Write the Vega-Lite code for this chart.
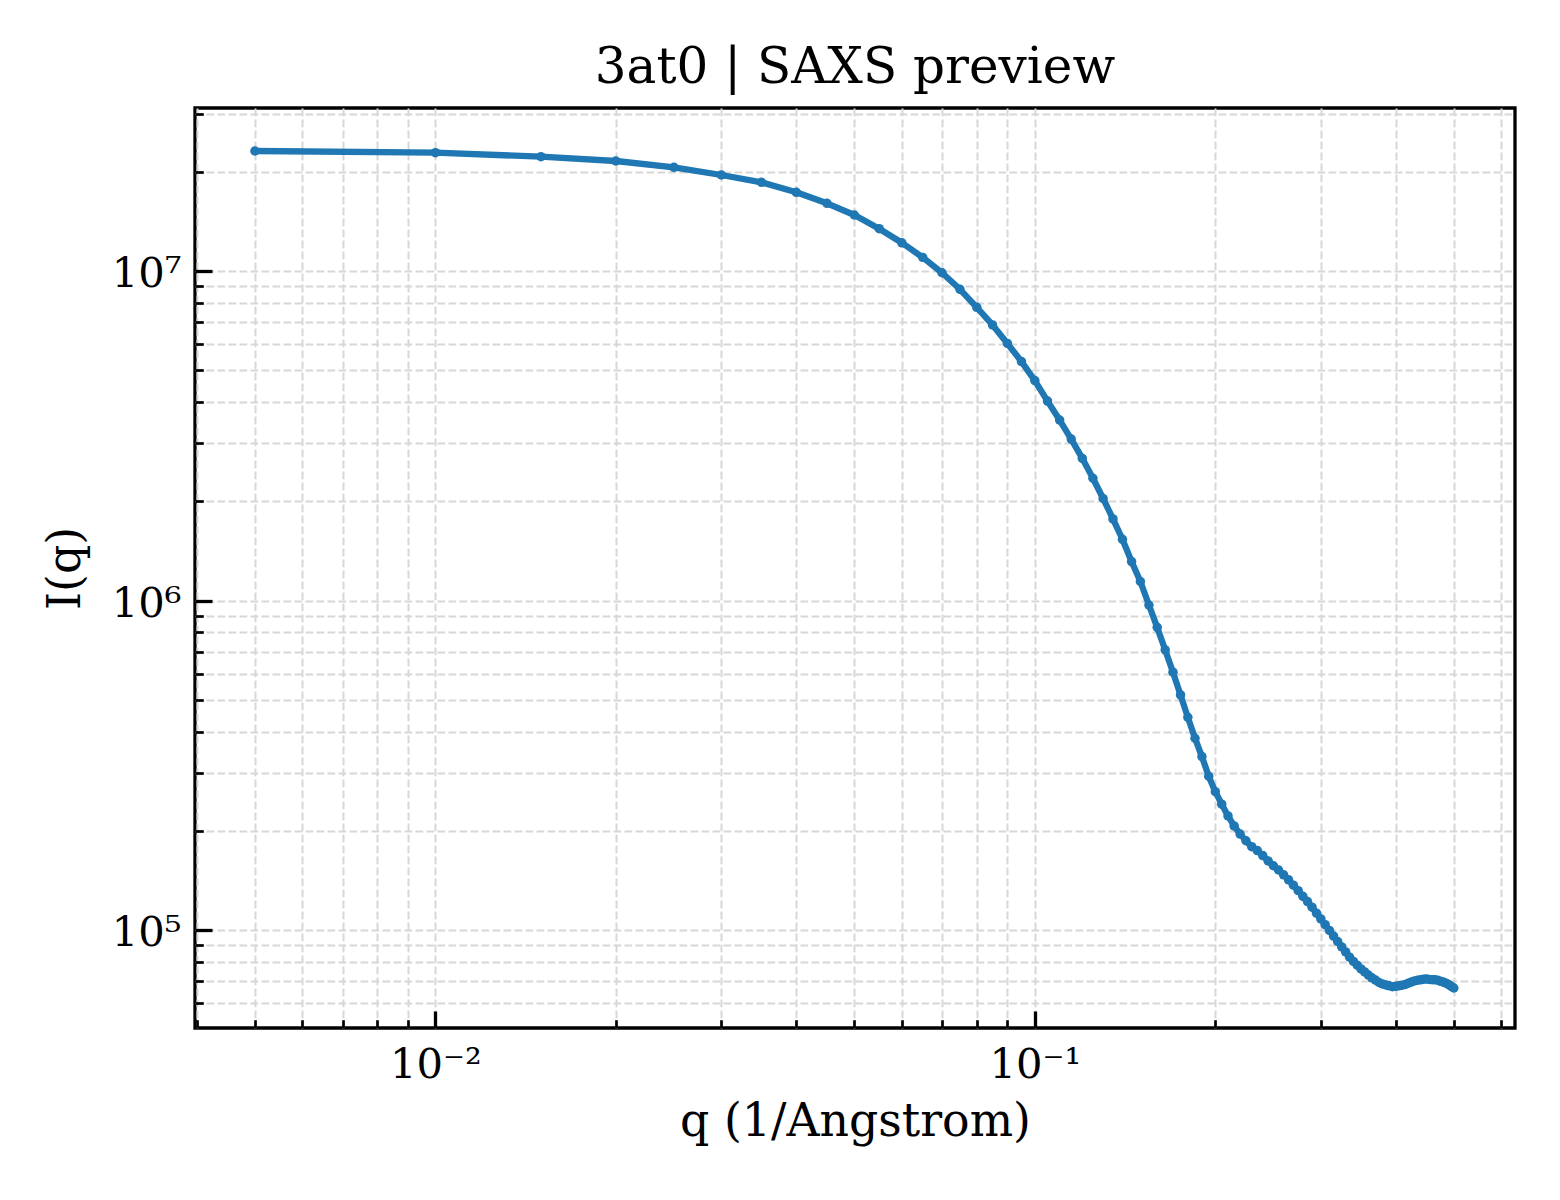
{
  "$schema": "https://vega.github.io/schema/vega-lite/v6.json",
  "width": 1320,
  "height": 920,
  "autosize": "none",
  "padding": {"left": 195, "top": 108, "right": 45, "bottom": 172},
  "background": "white",
  "title": {
    "text": "3at0 | SAXS preview",
    "font": "DejaVu Serif",
    "fontSize": 50,
    "fontWeight": "normal",
    "color": "black",
    "anchor": "middle",
    "frame": "group",
    "baseline": "alphabetic",
    "offset": -37
  },
  "data": {
    "values": [
      {"q": 0.005, "I": 23130000},
      {"q": 0.010, "I": 22860000},
      {"q": 0.015, "I": 22230000},
      {"q": 0.020, "I": 21570000},
      {"q": 0.025, "I": 20640000},
      {"q": 0.030, "I": 19560000},
      {"q": 0.035, "I": 18590000},
      {"q": 0.040, "I": 17330000},
      {"q": 0.045, "I": 16050000},
      {"q": 0.050, "I": 14790000},
      {"q": 0.055, "I": 13440000},
      {"q": 0.060, "I": 12180000},
      {"q": 0.065, "I": 11000000},
      {"q": 0.070, "I": 9880000},
      {"q": 0.075, "I": 8800000},
      {"q": 0.080, "I": 7760000},
      {"q": 0.085, "I": 6860000},
      {"q": 0.090, "I": 6030000},
      {"q": 0.095, "I": 5310000},
      {"q": 0.100, "I": 4650000},
      {"q": 0.105, "I": 4030000},
      {"q": 0.110, "I": 3530000},
      {"q": 0.115, "I": 3090000},
      {"q": 0.120, "I": 2700000},
      {"q": 0.125, "I": 2350000},
      {"q": 0.130, "I": 2040000},
      {"q": 0.135, "I": 1768000},
      {"q": 0.140, "I": 1534000},
      {"q": 0.145, "I": 1313000},
      {"q": 0.150, "I": 1142000},
      {"q": 0.155, "I": 969000},
      {"q": 0.160, "I": 829000},
      {"q": 0.165, "I": 708000},
      {"q": 0.170, "I": 606000},
      {"q": 0.175, "I": 517000},
      {"q": 0.180, "I": 442000},
      {"q": 0.185, "I": 382000},
      {"q": 0.190, "I": 336000},
      {"q": 0.195, "I": 293000},
      {"q": 0.200, "I": 263000},
      {"q": 0.205, "I": 241000},
      {"q": 0.210, "I": 222000},
      {"q": 0.215, "I": 207000},
      {"q": 0.220, "I": 195600},
      {"q": 0.225, "I": 186600},
      {"q": 0.230, "I": 179000},
      {"q": 0.235, "I": 174200},
      {"q": 0.240, "I": 168300},
      {"q": 0.245, "I": 162100},
      {"q": 0.250, "I": 156700},
      {"q": 0.255, "I": 152100},
      {"q": 0.260, "I": 147100},
      {"q": 0.265, "I": 142000},
      {"q": 0.270, "I": 136800},
      {"q": 0.275, "I": 131700},
      {"q": 0.280, "I": 126600},
      {"q": 0.285, "I": 122000},
      {"q": 0.290, "I": 117300},
      {"q": 0.295, "I": 112500},
      {"q": 0.300, "I": 108100},
      {"q": 0.305, "I": 103800},
      {"q": 0.310, "I": 99700},
      {"q": 0.315, "I": 95900},
      {"q": 0.320, "I": 92300},
      {"q": 0.325, "I": 88900},
      {"q": 0.330, "I": 85800},
      {"q": 0.335, "I": 82700},
      {"q": 0.340, "I": 80300},
      {"q": 0.345, "I": 78200},
      {"q": 0.350, "I": 76200},
      {"q": 0.355, "I": 74600},
      {"q": 0.360, "I": 73000},
      {"q": 0.365, "I": 71600},
      {"q": 0.370, "I": 70500},
      {"q": 0.375, "I": 69300},
      {"q": 0.380, "I": 68600},
      {"q": 0.385, "I": 68100},
      {"q": 0.390, "I": 67700},
      {"q": 0.395, "I": 67300},
      {"q": 0.400, "I": 67500},
      {"q": 0.405, "I": 67700},
      {"q": 0.410, "I": 68000},
      {"q": 0.415, "I": 68400},
      {"q": 0.420, "I": 69000},
      {"q": 0.425, "I": 69600},
      {"q": 0.430, "I": 70100},
      {"q": 0.435, "I": 70400},
      {"q": 0.440, "I": 70600},
      {"q": 0.445, "I": 70900},
      {"q": 0.450, "I": 71000},
      {"q": 0.455, "I": 70800},
      {"q": 0.460, "I": 70700},
      {"q": 0.465, "I": 70600},
      {"q": 0.470, "I": 70400},
      {"q": 0.475, "I": 69900},
      {"q": 0.480, "I": 69500},
      {"q": 0.485, "I": 69000},
      {"q": 0.490, "I": 68300},
      {"q": 0.495, "I": 67500},
      {"q": 0.500, "I": 66700}
    ]
  },
  "encoding": {
    "x": {
      "field": "q",
      "type": "quantitative",
      "title": "q (1/Angstrom)",
      "scale": {"type": "log", "domain": [0.003972, 0.6324], "nice": false},
      "axis": {
        "values": [0.004, 0.005, 0.006, 0.007, 0.008, 0.009, 0.01, 0.02, 0.03, 0.04, 0.05, 0.06, 0.07, 0.08, 0.09, 0.1, 0.2, 0.3, 0.4, 0.5, 0.6],
        "labelExpr": "datum.value == 0.01 ? '10⁻²' : datum.value == 0.1 ? '10⁻¹' : ''",
        "tickSize": {"condition": {"test": "datum.value == 0.01 || datum.value == 0.1", "value": -17}, "value": -8.3},
        "tickWidth": {"condition": {"test": "datum.value == 0.01 || datum.value == 0.1", "value": 3.3}, "value": 2.7},
        "labelPadding": 33,
        "titlePadding": 5
      }
    },
    "y": {
      "field": "I",
      "type": "quantitative",
      "title": "I(q)",
      "scale": {"type": "log", "domain": [50430, 31240000], "nice": false},
      "axis": {
        "values": [60000, 70000, 80000, 90000, 100000, 200000, 300000, 400000, 500000, 600000, 700000, 800000, 900000, 1000000, 2000000, 3000000, 4000000, 5000000, 6000000, 7000000, 8000000, 9000000, 10000000, 20000000, 30000000],
        "labelExpr": "datum.value == 10000000 ? '10⁷' : datum.value == 1000000 ? '10⁶' : datum.value == 100000 ? '10⁵' : ''",
        "tickSize": {"condition": {"test": "datum.value == 100000 || datum.value == 1000000 || datum.value == 10000000", "value": -17}, "value": -8.3},
        "tickWidth": {"condition": {"test": "datum.value == 100000 || datum.value == 1000000 || datum.value == 10000000", "value": 3.3}, "value": 2.7},
        "labelPadding": 31,
        "labelOffset": 2.5,
        "titlePadding": 22
      }
    }
  },
  "layer": [
    {
      "mark": {"type": "line", "color": "#1f77b4", "strokeWidth": 6.3, "strokeJoin": "round", "strokeCap": "round"}
    },
    {
      "mark": {"type": "point", "filled": true, "color": "#1f77b4", "opacity": 1, "size": 90}
    }
  ],
  "config": {
    "font": "DejaVu Serif",
    "view": {"stroke": "black", "strokeWidth": 3.3},
    "axis": {
      "domain": false,
      "grid": true,
      "gridColor": "#d7d7d7",
      "gridWidth": 2,
      "gridDash": [7.7, 3.3],
      "gridOpacity": 1,
      "tickColor": "black",
      "labelFont": "DejaVu Serif",
      "labelFontSize": 41.7,
      "labelColor": "black",
      "labelOverlap": false,
      "labelFlush": false,
      "labelBound": false,
      "titleFont": "DejaVu Serif",
      "titleFontSize": 45.8,
      "titleFontWeight": "normal",
      "titleColor": "black"
    }
  }
}
